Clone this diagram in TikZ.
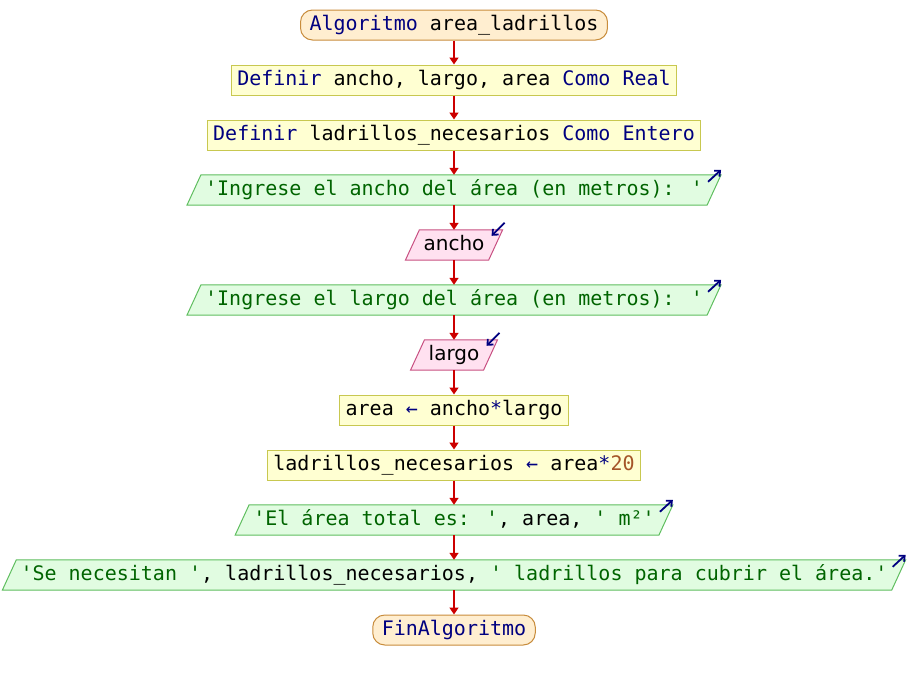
\documentclass[tikz,border=0pt]{standalone}
\usepackage{fontspec}
\newfontfamily\codefont{DejaVu Sans Mono}
\newfontfamily\varfont{DejaVu Sans}
\usetikzlibrary{arrows.meta,backgrounds}

\definecolor{kw}{RGB}{0,0,128}
\definecolor{str}{RGB}{0,100,0}
\definecolor{num}{RGB}{165,85,40}
\definecolor{flowred}{RGB}{204,0,0}
\definecolor{termfill}{RGB}{255,238,208}
\definecolor{termdraw}{RGB}{200,140,60}
\definecolor{procfill}{RGB}{255,255,210}
\definecolor{procdraw}{RGB}{200,200,80}
\definecolor{outfill}{RGB}{225,252,225}
\definecolor{outdraw}{RGB}{95,190,95}
\definecolor{infill}{RGB}{255,225,240}
\definecolor{indraw}{RGB}{200,80,130}

\newcommand{\kw}[1]{{\color{kw}#1}}
\newcommand{\str}[1]{{\color{str}#1}}
\newcommand{\num}[1]{{\color{num}#1}}

\tikzset{
  base/.style={rectangle, minimum height=30pt, inner ysep=0pt,
    text height=15pt, text depth=4pt,
    font=\codefont\fontsize{20}{24}\selectfont},
  term/.style={base, draw=termdraw, fill=termfill, line width=1pt,
    rounded corners=12pt, inner xsep=9pt},
  proc/.style={base, draw=procdraw, fill=procfill, line width=1pt, inner xsep=6pt},
  io/.style={base, inner xsep=11pt},
  inp/.style={io, font=\varfont\fontsize{20}{24}\selectfont},
  outbox/.style={draw=outdraw, fill=outfill, line width=1pt},
  inbox/.style={draw=indraw, fill=infill, line width=1pt},
  flow/.style={draw=flowred, line width=1.6pt,
    -{Triangle[width=9pt,length=7pt]}},
  marker/.style={draw=kw, line width=1.8pt,
    -{Straight Barb[width=8pt,length=4.5pt]}},
}

\begin{document}
\begin{tikzpicture}[x=1pt,y=-1pt]
\useasboundingbox (0,0) rectangle (908,680);

\node[term] (t0) at (454,25)  {\kw{Algoritmo} area\_ladrillos};
\node[proc] (d1) at (454,80)  {\kw{Definir} ancho, largo, area \kw{Como Real}};
\node[proc] (d2) at (454,135) {\kw{Definir} ladrillos\_necesarios \kw{Como Entero}};
\node[io]   (o1) at (454,190) {\str{'Ingrese el ancho del área (en metros): '}};
\node[inp]  (i1) at (454,245) {ancho};
\node[io]   (o2) at (454,300) {\str{'Ingrese el largo del área (en metros): '}};
\node[inp]  (i2) at (454,355) {largo};
\node[proc] (a1) at (454,410) {area \kw{←} ancho\kw{*}largo};
\node[proc] (a2) at (454,465) {ladrillos\_necesarios \kw{←} area\kw{*}\num{20}};
\node[io]   (o3) at (454,520) {\str{'El área total es: '}, area, \str{' m²'}};
\node[io]   (o4) at (454,575) {\str{'Se necesitan '}, ladrillos\_necesarios, \str{' ladrillos para cubrir el área.'}};
\node[term] (t1) at (454,630) {\kw{FinAlgoritmo}};

% parallelograms behind the input/output texts
\begin{pgfonlayer}{background}
  \foreach \n in {o1,o2,o3,o4}
    \path[outbox] ([xshift=-7pt]\n.south west) -- ([xshift=7pt]\n.north west)
      -- ([xshift=7pt]\n.north east) -- ([xshift=-7pt]\n.south east) -- cycle;
  \foreach \n in {i1,i2}
    \path[inbox] ([xshift=-7pt]\n.south west) -- ([xshift=7pt]\n.north west)
      -- ([xshift=7pt]\n.north east) -- ([xshift=-7pt]\n.south east) -- cycle;
\end{pgfonlayer}

% output markers (up-right) and input markers (down-left)
\foreach \n in {o1,o2,o3,o4}
  \draw[marker] ([xshift=-6pt,yshift=-7pt]\n.north east) -- ([xshift=7pt,yshift=5pt]\n.north east);
\foreach \n in {i1,i2}
  \draw[marker] ([xshift=9pt,yshift=7pt]\n.north east) -- ([xshift=-4pt,yshift=-6pt]\n.north east);

% flow connectors
\foreach \a/\b in {t0/d1,d1/d2,d2/o1,o1/i1,i1/o2,o2/i2,i2/a1,a1/a2,a2/o3,o3/o4,o4/t1}
  \draw[flow] (\a.south) -- (\b.north);
\end{tikzpicture}
\end{document}
